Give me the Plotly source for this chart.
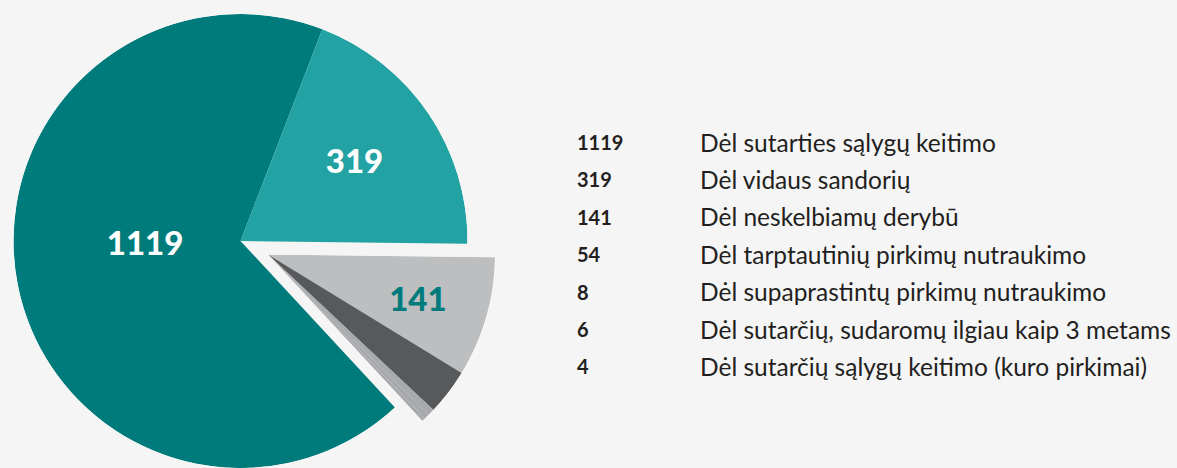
import math
import plotly.graph_objects as go

# ---------------- data ----------------
labels = [
    "Dėl sutarties sąlygų keitimo",
    "Dėl vidaus sandorių",
    "Dėl neskelbiamų derybū",
    "Dėl tarptautinių pirkimų nutraukimo",
    "Dėl supaprastintų pirkimų nutraukimo",
    "Dėl sutarčių, sudaromų ilgiau kaip 3 metams",
    "Dėl sutarčių sąlygų keitimo (kuro pirkimai)",
]
values = [1119, 319, 141, 54, 8, 6, 4]
pulled = [False, False, True, True, True, True, True]

# ---------------- style ----------------
colors = ["#007b7b", "#22a2a2", "#bcbec0", "#58595b", "#a7a9ac", "#a7a9ac", "#a7a9ac"]
bg = "#f5f5f5"
W, H = 1177, 468
cx, cy, R = 240.5, 241.0, 227.0          # pie centre / radius (px)
pull_dx, pull_dy = 27.5, 13.5            # offset of the pulled group (px)
start_cw = 137.14                        # angle (clockwise from 12 o'clock) where first slice starts

# inside value labels: (theta, radius fraction, color)
value_label_pos = {
    0: (266.4, 0.421, "white"),
    1: (56.3, 0.604, "white"),
    2: (107.9, 0.694, "#007b7b"),
}

total = sum(values)
widths = [v / total * 360.0 for v in values]
starts = []
acc = start_cw
for w in widths:
    starts.append(acc)
    acc += w
mids = [s + w / 2 for s, w in zip(starts, widths)]


def sector_bbox(sector):
    s0, s1 = sector
    arc = s1 - s0
    a0 = s0 % 360
    a1 = a0 + arc
    ax0, ay0 = math.cos(math.radians(a0)), math.sin(math.radians(a0))
    ax1, ay1 = math.cos(math.radians(a1)), math.sin(math.radians(a1))
    if (a0 <= 90 and a1 >= 90) or (a0 > 90 and a1 >= 450):
        y1 = 1
    elif ay0 <= 0 and ay1 <= 0:
        y1 = 0
    else:
        y1 = max(ay0, ay1)
    if (a0 <= 180 and a1 >= 180) or (a0 > 180 and a1 >= 540):
        x0 = -1
    elif ax0 >= 0 and ax1 >= 0:
        x0 = 0
    else:
        x0 = min(ax0, ax1)
    if (a0 <= 270 and a1 >= 270) or (a0 > 270 and a1 >= 630):
        y0 = -1
    elif ay0 >= 0 and ay1 >= 0:
        y0 = 0
    else:
        y0 = min(ay0, ay1)
    if a1 >= 360:
        x1 = 1
    elif ax0 <= 0 and ax1 <= 0:
        x1 = 0
    else:
        x1 = max(ax0, ax1)
    return x0, y0, x1, y1


def domain_for(ccx, ccy, r, bbox):
    x0, y0, x1, y1 = bbox
    left, right = ccx + r * x0, ccx + r * x1
    top, bottom = ccy - r * y1, ccy - r * y0
    dx = [max(0.0, left / W), min(1.0, right / W)]
    dy = [max(0.0, 1 - bottom / H), min(1.0, 1 - top / H)]
    return dict(x=dx, y=dy)


main_idx = [i for i, p in enumerate(pulled) if not p]
pull_idx = [i for i, p in enumerate(pulled) if p]

g0 = min(starts[i] for i in pull_idx)
g1 = max(starts[i] + widths[i] for i in pull_idx)
pull_sector = [90 - g1, 90 - g0]

fig = go.Figure()

for sub, idxs in (("polar", main_idx), ("polar2", pull_idx)):
    fig.add_trace(go.Barpolar(
        r=[1] * len(idxs),
        theta=[mids[i] for i in idxs],
        width=[widths[i] for i in idxs],
        marker=dict(color=[colors[i] for i in idxs], line=dict(width=0)),
        hovertext=[f"{values[i]} {labels[i]}" for i in idxs],
        hoverinfo="text",
        subplot=sub,
        showlegend=False,
    ))

for i, (th, rf, col) in value_label_pos.items():
    fig.add_trace(go.Scatterpolar(
        r=[rf], theta=[th], mode="text", text=[str(values[i])],
        textfont=dict(family="Lato", size=33, color=col, weight=900),
        textposition="middle center",
        hoverinfo="skip", showlegend=False,
        subplot="polar2" if pulled[i] else "polar",
    ))

axis_off = dict(showline=False, showticklabels=False, ticks="", showgrid=False)
fig.update_layout(
    width=W, height=H,
    margin=dict(l=0, r=0, t=0, b=0),
    paper_bgcolor=bg, plot_bgcolor=bg,
    template="none",
    polar=dict(
        domain=domain_for(cx, cy, R, (-1, -1, 1, 1)),
        bgcolor="rgba(0,0,0,0)", bargap=0, hole=0,
        radialaxis=dict(range=[0, 1], **axis_off),
        angularaxis=dict(rotation=90, direction="clockwise", **axis_off),
    ),
    polar2=dict(
        domain=domain_for(cx + pull_dx, cy + pull_dy, R, sector_bbox(pull_sector)),
        sector=pull_sector,
        bgcolor="rgba(0,0,0,0)", bargap=0, hole=0,
        radialaxis=dict(range=[0, 1], **axis_off),
        angularaxis=dict(rotation=90, direction="clockwise", **axis_off),
    ),
)

# legend-like list on the right
row0, row_step = 142.0, 37.4
for k, (v, lab) in enumerate(zip(values, labels)):
    yp = 1 - (row0 + k * row_step) / H
    fig.add_annotation(x=575 / W, y=yp, xref="paper", yref="paper",
                       xanchor="left", yanchor="middle", showarrow=False,
                       text=f"<b>{v}</b>",
                       font=dict(family="Lato", size=20, color="#231f20", weight=900))
    fig.add_annotation(x=698 / W, y=yp, xref="paper", yref="paper",
                       xanchor="left", yanchor="middle", showarrow=False,
                       text=lab,
                       font=dict(family="Lato", size=24.5, color="#231f20"))

fig.write_html(
    "out.html",
    config={"displayModeBar": False},
    post_script="document.body.style.margin='0';document.body.style.overflow='hidden';",
)
